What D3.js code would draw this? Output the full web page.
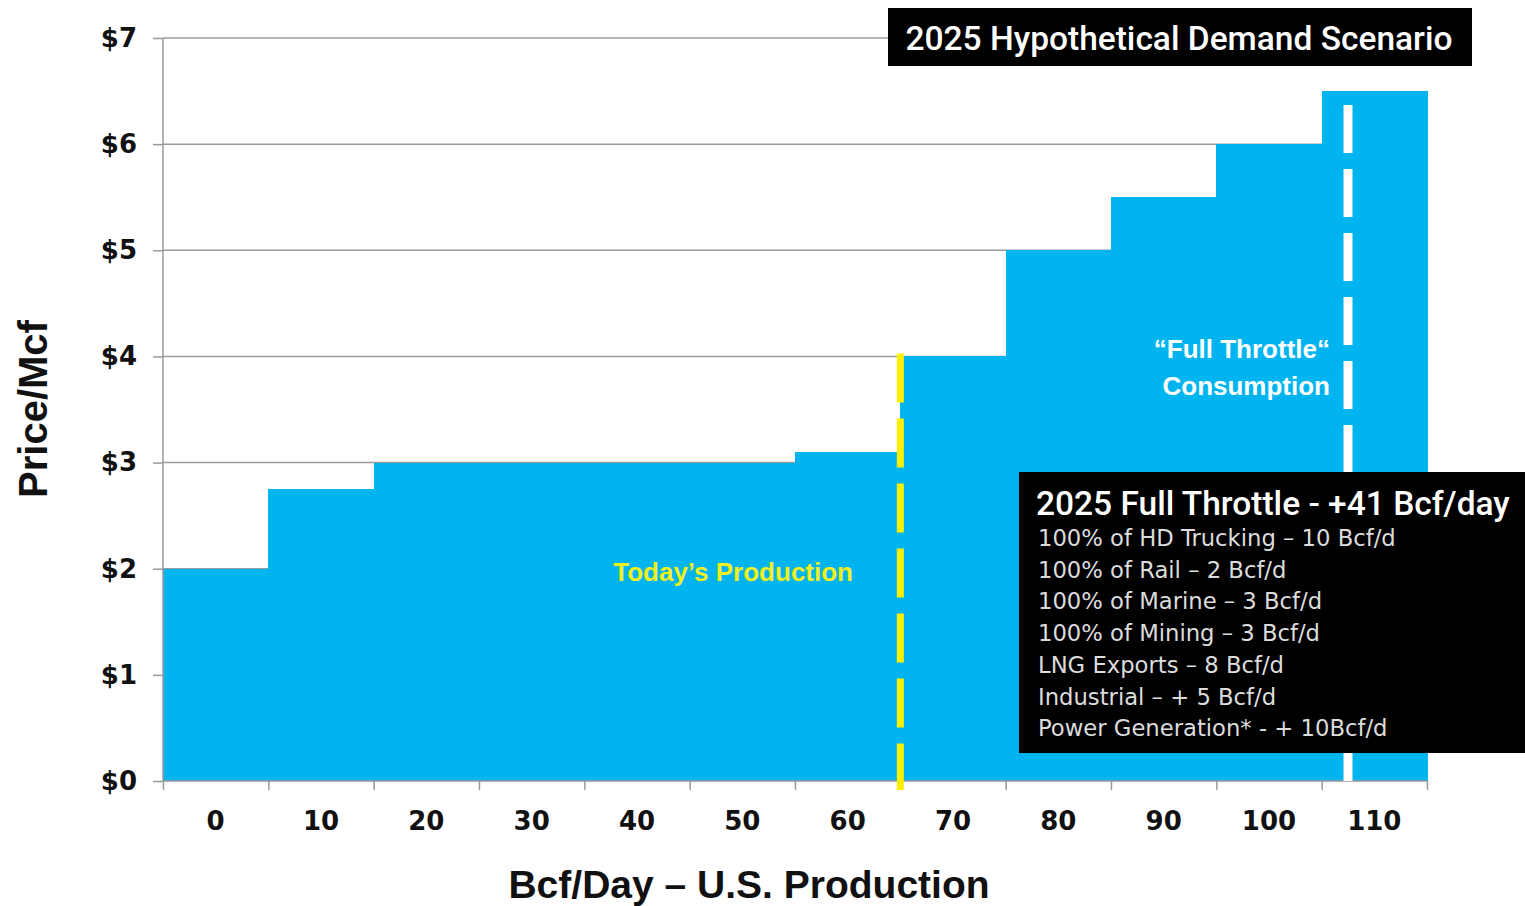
<!DOCTYPE html>
<html>
<head>
<meta charset="utf-8">
<script src="https://cdn.jsdelivr.net/npm/d3@7"></script>
<style>
  html, body { margin: 0; padding: 0; background: #fff; }
  svg { display: block; }
</style>
</head>
<body>
<svg id="chart" width="1525" height="906"></svg>
<script>
// ---- data ----
const categories = ["0", "10", "20", "30", "40", "50", "60", "70", "80", "90", "100", "110"];
const prices = [2.0, 2.75, 3.0, 3.0, 3.0, 3.0, 3.1, 4.0, 5.0, 5.5, 6.0, 6.5];
const yTicks = [0, 1, 2, 3, 4, 5, 6, 7];
const todaysProduction = 65;      // Bcf/d
const fullThrottle = 107.5;       // Bcf/d
const boxTitle = "2025 Full Throttle - +41 Bcf/day";
const boxLines = [
  "100% of HD Trucking \u2013 10 Bcf/d",
  "100% of Rail \u2013 2 Bcf/d",
  "100% of Marine \u2013 3 Bcf/d",
  "100% of Mining \u2013 3 Bcf/d",
  "LNG Exports \u2013 8 Bcf/d",
  "Industrial \u2013 + 5 Bcf/d",
  "Power Generation* - + 10Bcf/d"
];

// ---- layout ----
const svg = d3.select("#chart");
const W = 1525, H = 906;
const m = { left: 163, right: 98, top: 38, bottom: 125 };
const x0 = m.left, x1 = W - m.right, y0 = H - m.bottom, y1 = m.top;
const FONT = "'Liberation Sans', Arial, sans-serif";
const TICKFONT = "'DejaVu Sans', sans-serif";
const MEDFONT = "Roboto, 'Liberation Sans', sans-serif";
const BLUE = "#00b5ef";
const GRID = "#9a9a9a";

const x = d3.scaleBand().domain(categories).range([x0, x1]).paddingInner(0).paddingOuter(0);
const xLin = d3.scaleLinear().domain([-5, 115]).range([x0, x1]);
const y = d3.scaleLinear().domain([0, 7]).range([y0, y1]);

// gridlines
svg.append("g")
  .selectAll("line").data(yTicks.filter(d => d > 0)).join("line")
  .attr("x1", x0).attr("x2", x1)
  .attr("y1", d => y(d)).attr("y2", d => y(d))
  .attr("stroke", GRID).attr("stroke-width", 1.5);

// bars
svg.append("g")
  .attr("shape-rendering", "crispEdges")
  .selectAll("rect").data(categories).join("rect")
  .attr("x", d => x(d))
  .attr("width", x.bandwidth() + 1)
  .attr("y", (d, i) => y(prices[i]))
  .attr("height", (d, i) => y(0) - y(prices[i]))
  .attr("fill", BLUE);

// y axis
const yAxis = svg.append("g")
  .attr("transform", `translate(${x0},0)`)
  .call(d3.axisLeft(y).tickValues(yTicks).tickFormat(d => "$" + d).tickSize(10).tickPadding(16));
yAxis.select(".domain").attr("stroke", GRID).attr("stroke-width", 1.5).attr("d", `M0,${y1}V${y0}`);
yAxis.selectAll(".tick line").attr("stroke", GRID).attr("stroke-width", 1.5);
yAxis.selectAll(".tick text")
  .attr("fill", "#111").style("font-family", TICKFONT).style("font-size", "26px").style("font-weight", "bold");

// x axis: boundary ticks
const bounds = d3.range(-5, 116, 10);
const xTickAxis = svg.append("g")
  .attr("transform", `translate(0,${y0})`)
  .call(d3.axisBottom(xLin).tickValues(bounds).tickFormat("").tickSize(9));
xTickAxis.select(".domain").attr("stroke", GRID).attr("stroke-width", 1.5).attr("d", `M${x0},0H${x1}`);
xTickAxis.selectAll(".tick line").attr("stroke", GRID).attr("stroke-width", 1.5);

// x axis labels
const xLabelAxis = svg.append("g")
  .attr("transform", `translate(0,${y0})`)
  .call(d3.axisBottom(x).tickSize(0).tickPadding(31));
xLabelAxis.select(".domain").remove();
xLabelAxis.selectAll(".tick text")
  .attr("fill", "#111").style("font-family", TICKFONT).style("font-size", "26px").style("font-weight", "bold");

// today's production line (yellow dashed)
svg.append("line")
  .attr("x1", xLin(todaysProduction)).attr("x2", xLin(todaysProduction))
  .attr("y1", y(4) - 3).attr("y2", y0 + 9)
  .attr("stroke", "#ffef00").attr("stroke-width", 7)
  .attr("stroke-dasharray", "49,16");

// full throttle line (white dashed)
svg.append("line")
  .attr("x1", xLin(fullThrottle)).attr("x2", xLin(fullThrottle))
  .attr("y1", y(6.5) + 14).attr("y2", y0)
  .attr("stroke", "#ffffff").attr("stroke-width", 9)
  .attr("stroke-dasharray", "48,16");

// labels
svg.append("text")
  .attr("x", 853).attr("y", 581)
  .attr("text-anchor", "end")
  .attr("fill", "#f2ee1f")
  .style("font-family", FONT).style("font-size", "26px").style("font-weight", "bold")
  .text("Today\u2019s Production");

svg.append("text")
  .attr("x", 1330).attr("y", 358)
  .attr("text-anchor", "end")
  .attr("fill", "#ffffff")
  .style("font-family", FONT).style("font-size", "26px").style("font-weight", "bold")
  .text("\u201CFull Throttle\u201C");
svg.append("text")
  .attr("x", 1330).attr("y", 395)
  .attr("text-anchor", "end")
  .attr("fill", "#ffffff")
  .style("font-family", FONT).style("font-size", "26px").style("font-weight", "bold")
  .text("Consumption");

// top black label
svg.append("rect")
  .attr("x", 888).attr("y", 8).attr("width", 584).attr("height", 58)
  .attr("fill", "#000");
svg.append("text")
  .attr("x", 1179).attr("y", 50)
  .attr("text-anchor", "middle")
  .attr("fill", "#fff")
  .style("font-family", MEDFONT).style("font-size", "33.5px").style("font-weight", "500")
  .text("2025 Hypothetical Demand Scenario");

// info box
svg.append("rect")
  .attr("x", 1019).attr("y", 472).attr("width", 506).attr("height", 281)
  .attr("fill", "#000");
svg.append("text")
  .attr("x", 1036).attr("y", 515)
  .attr("fill", "#fff")
  .style("font-family", MEDFONT).style("font-size", "33.5px").style("font-weight", "500")
  .text(boxTitle);
svg.append("g")
  .selectAll("text").data(boxLines).join("text")
  .attr("x", 1038)
  .attr("y", (d, i) => 546 + i * 31.7)
  .attr("fill", "#dcdcdc")
  .style("font-family", TICKFONT).style("font-size", "22.7px")
  .text(d => d);

// axis titles
svg.append("text")
  .attr("transform", `translate(47,409) rotate(-90)`)
  .attr("text-anchor", "middle")
  .attr("fill", "#111")
  .style("font-family", FONT).style("font-size", "40px").style("font-weight", "bold")
  .text("Price/Mcf");
svg.append("text")
  .attr("x", 749).attr("y", 898)
  .attr("text-anchor", "middle")
  .attr("fill", "#111")
  .style("font-family", FONT).style("font-size", "39px").style("font-weight", "bold")
  .text("Bcf/Day \u2013 U.S. Production");
</script>
</body>
</html>
